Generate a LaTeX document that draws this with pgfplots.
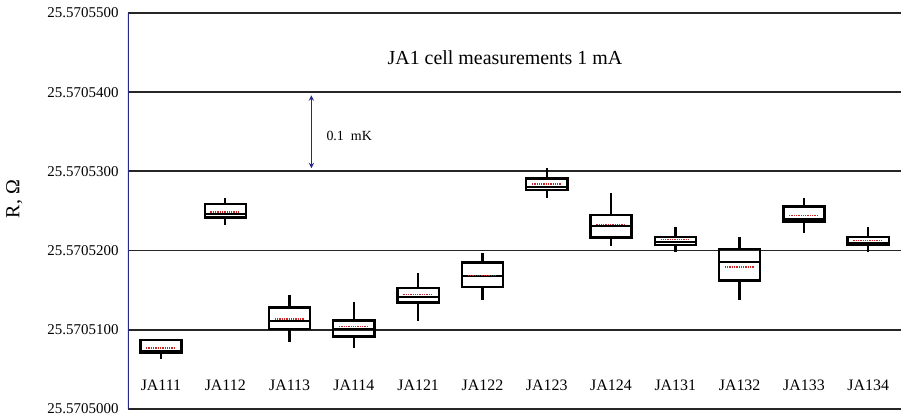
\documentclass[border=0pt]{standalone}
\usepackage{fontspec}
\setmainfont{Liberation Serif}
\usepackage{pgfplots}
\pgfplotsset{compat=1.18}
\usepgfplotslibrary{statistics}
\definecolor{navy}{RGB}{40,40,140}
\definecolor{meanred}{RGB}{200,40,40}
% values in units of 1e-7 Ohm above 25.5705000 Ohm
\begin{document}
\begin{tikzpicture}
\begin{axis}[
  name=ax,
  scale only axis,
  width=773bp, height=396bp,
  xmin=-0.513, xmax=11.51,
  ymin=0, ymax=500,
  axis line style={draw=none},
  ytick={0,100,200,300,400,500},
  yticklabels={25.5705000,25.5705100,25.5705200,25.5705300,25.5705400,25.5705500},
  xtick={0,...,11},
  xticklabels={JA111,JA112,JA113,JA114,JA121,JA122,JA123,JA124,JA131,JA132,JA133,JA134},
  tick style={draw=none},
  ymajorgrids,
  grid style={black!85, line width=1.8bp},
  yticklabel style={font=\fontsize{15}{15}\selectfont, xshift=-6bp},
  xticklabel style={font=\fontsize{16}{16}\selectfont, anchor=center, yshift=23.5bp},
  every axis y label/.style={at={(axis description cs:-0.147,0.53)}, rotate=90, anchor=center, font=\fontsize{20}{20}\selectfont},
  ylabel={R, Ω},
  boxplot/draw direction=y,
  boxplot/box extend=0.64,
  boxplot/whisker extend=0,
  boxplot/every box/.style={draw=black, line width=2.4bp},
  boxplot/every whisker/.style={draw=black, line width=2.4bp},
  boxplot/every median/.style={draw=black, line width=2bp},
  boxplot/draw/average/.code={\draw[meanred, densely dotted, line width=1.3bp] (boxplot box cs:\pgfplotsboxplotvalue{average},0.14) -- (boxplot box cs:\pgfplotsboxplotvalue{average},0.86);},
]
\addplot[draw=black, boxplot prepared={draw position=0, lower whisker=63.0, lower quartile=70.6, median=73.5, average=76.9, upper quartile=87.4, upper whisker=87.4}] coordinates {};
\addplot[draw=black, boxplot prepared={draw position=1, lower whisker=232.6, lower quartile=241.8, median=246.1, average=248.6, upper quartile=258.7, upper whisker=266.3}] coordinates {};
\addplot[draw=black, boxplot prepared={draw position=2, lower whisker=85.2, lower quartile=100.9, median=110.5, average=113.5, upper quartile=128.2, upper whisker=144.2}] coordinates {};
\addplot[draw=black, boxplot prepared={draw position=3, lower whisker=76.9, lower quartile=91.5, median=100.9, average=104.2, upper quartile=111.7, upper whisker=134.5}] coordinates {};
\addplot[draw=black, boxplot prepared={draw position=4, lower whisker=111.7, lower quartile=134.5, median=140.8, average=144.2, upper quartile=152.7, upper whisker=171.6}] coordinates {};
\addplot[draw=black, boxplot prepared={draw position=5, lower whisker=137.0, lower quartile=153.9, median=167.3, average=168.6, upper quartile=185.0, upper whisker=196.8}] coordinates {};
\addplot[draw=black, boxplot prepared={draw position=6, lower whisker=267.0, lower quartile=276.8, median=280.9, average=284.0, upper quartile=291.0, upper whisker=304.2}] coordinates {};
\addplot[draw=black, boxplot prepared={draw position=7, lower whisker=205.2, lower quartile=216.5, median=231.3, average=233.0, upper quartile=245.2, upper whisker=272.6}] coordinates {};
\addplot[draw=black, boxplot prepared={draw position=8, lower whisker=198.1, lower quartile=207.3, median=211.1, average=213.6, upper quartile=217.0, upper whisker=229.7}] coordinates {};
\addplot[draw=black, boxplot prepared={draw position=9, lower whisker=137.9, lower quartile=162.2, median=186.2, average=179.2, upper quartile=202.3, upper whisker=217.0}] coordinates {};
\addplot[draw=black, boxplot prepared={draw position=10, lower whisker=222.1, lower quartile=236.7, median=240.2, average=244.3, upper quartile=255.7, upper whisker=266.3}] coordinates {};
\addplot[draw=black, boxplot prepared={draw position=11, lower whisker=197.6, lower quartile=206.9, median=210.2, average=212.4, upper quartile=217.0, upper whisker=229.7}] coordinates {};
\draw[navy, line width=2bp] (rel axis cs:0,0) -- (rel axis cs:0,1);
\node[font=\fontsize{20}{20}\selectfont] at (axis cs:5.35,443) {JA1 cell measurements 1 mA};
\draw[navy, line width=1.4bp, <->, >=stealth] (axis cs:2.34,396) -- (axis cs:2.34,304);
\node[anchor=west, font=\fontsize{14}{14}\selectfont] at (axis cs:2.52,345) {0.1\ \ mK};
\end{axis}
\pgfresetboundingbox
\path ([shift={(-128bp,-10bp)}]ax.south west) rectangle ([shift={(0bp,13bp)}]ax.north east);
\end{tikzpicture}
\end{document}
